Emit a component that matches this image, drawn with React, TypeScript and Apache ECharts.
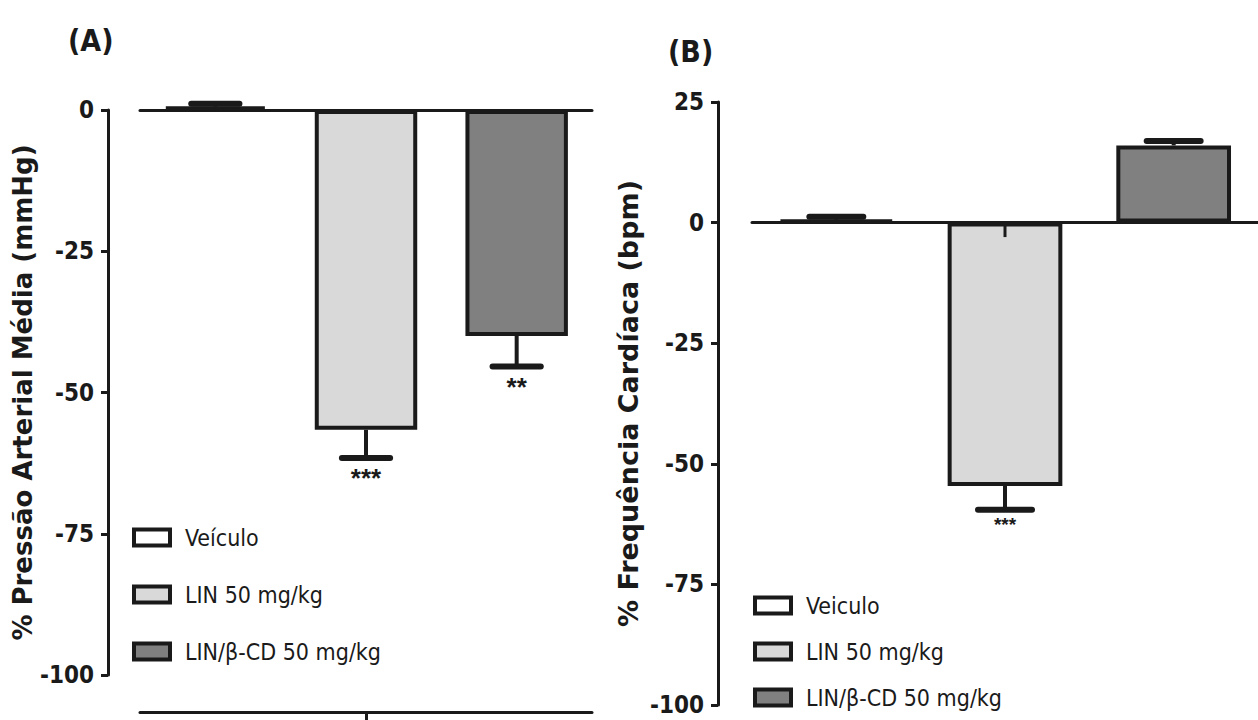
import React, { useEffect, useRef } from 'react';
import * as echarts from 'echarts';

// ---- data ----
const groupsA = ['Veículo', 'LIN 50 mg/kg', 'LIN/β-CD 50 mg/kg'];
const groupsB = ['Veiculo', 'LIN 50 mg/kg', 'LIN/β-CD 50 mg/kg'];
const fills = ['#ffffff', '#d9d9d9', '#808080'];

// (A) % Pressão Arterial Média (mmHg)
const papMean = [0.6, -56.6, -40.0];
const papSem = [0.5, 5.0, 5.4];
const papStars = ['', '***', '**'];
const papInner = [0, 0, 0];

// (B) % Frequência Cardíaca (bpm)
const fcMean = [0.6, -54.6, 16.0];
const fcSem = [0.6, 4.9, 0.9];
const fcStars = ['', '***', ''];
const fcInner = [0, 3, 0];

const axisA = { min: -100, max: 0, interval: 25 };
const axisB = { min: -100, max: 25, interval: 25 };

const INK = '#1a1a1a';
const NARROW = '"Liberation Sans Narrow", "Arial Narrow", "DejaVu Sans Condensed", sans-serif';
const SANS = '"Liberation Sans", Arial, sans-serif';
const WIDE = '"DejaVu Sans", "Liberation Sans", sans-serif';

function barSeries(names: string[], means: number[], axisIdx: number) {
  return names.map((name, i) => ({
    name,
    type: 'bar',
    xAxisIndex: axisIdx === 0 ? 0 : 2,
    yAxisIndex: axisIdx,
    data: means.map((v, j) => (j === i ? v : '-')),
    barGap: '-100%',
    barWidth: '68%',
    clip: false,
    itemStyle: { color: fills[i], borderColor: INK, borderWidth: 4 },
    z: 2,
  }));
}

function errorSeries(
  means: number[],
  sems: number[],
  stars: string[],
  inner: number[],
  axisIdx: number,
  starSize: number,
  starGap: number
) {
  return {
    type: 'custom',
    xAxisIndex: axisIdx === 0 ? 0 : 2,
    yAxisIndex: axisIdx,
    z: 4,
    clip: false,
    encode: { x: 0, y: 1 },
    data: means.map((m, i) => [i, m, sems[i]]),
    renderItem: (params: any, api: any) => {
      const idx = params.dataIndex;
      const x = api.value(0);
      const m = api.value(1);
      const s = api.value(2);
      const sign = m >= 0 ? 1 : -1;
      const p0 = api.coord([x, m]);
      const p1 = api.coord([x, m + sign * s]);
      const band = api.size([1, 0])[0];
      const half = band * 0.16;
      const children: any[] = [
        {
          type: 'line',
          shape: { x1: p0[0], y1: p0[1], x2: p1[0], y2: p1[1] },
          style: { stroke: INK, lineWidth: 4 },
        },
        {
          type: 'line',
          shape: { x1: p1[0] - half, y1: p1[1], x2: p1[0] + half, y2: p1[1] },
          style: { stroke: INK, lineWidth: 6, lineCap: 'round' },
        },
      ];
      if (inner[idx]) {
        const z0 = api.coord([x, 0]);
        const z1 = api.coord([x, sign * inner[idx]]);
        children.push({
          type: 'line',
          shape: { x1: z0[0], y1: z0[1], x2: z1[0], y2: z1[1] },
          style: { stroke: INK, lineWidth: 3 },
        });
      }
      if (stars[idx]) {
        children.push({
          type: 'text',
          style: {
            text: stars[idx],
            x: p1[0],
            y: p1[1] - sign * starGap,
            textAlign: 'center',
            textVerticalAlign: 'middle',
            fontSize: starSize,
            fontWeight: 'bold',
            fontFamily: SANS,
            fill: INK,
          },
        });
      }
      return { type: 'group', children };
    },
  };
}

function yAxisCfg(gridIndex: number, cfg: any, name: string, offset: number, nameGap: number, nameSize: number) {
  return {
    gridIndex,
    type: 'value',
    min: cfg.min,
    max: cfg.max,
    interval: cfg.interval,
    position: 'left',
    offset,
    name,
    nameLocation: 'middle',
    nameGap,
    nameTextStyle: { fontSize: nameSize, fontWeight: 'bold', fontFamily: WIDE, color: INK },
    axisLine: { show: true, onZero: false, lineStyle: { color: INK, width: 3 } },
    axisTick: { show: true, length: 7, lineStyle: { color: INK, width: 3 } },
    axisLabel: { fontSize: 24, fontWeight: 'bold', fontFamily: NARROW, color: INK, margin: 14 },
    splitLine: { show: false },
  };
}

function legendCfg(data: string[], left: number, top: number, gap: number) {
  return {
    orient: 'vertical',
    left,
    top,
    padding: 0,
    itemGap: gap,
    itemWidth: 36,
    itemHeight: 16,
    icon: 'rect',
    selectedMode: false,
    data,
    itemStyle: { borderColor: INK, borderWidth: 4 },
    textStyle: { fontSize: 23, fontFamily: NARROW, color: INK, padding: [0, 0, 0, 10] },
  };
}

export default function App() {
  const ref = useRef<HTMLDivElement>(null);
  useEffect(() => {
    if (!ref.current) return;
    const chart = echarts.init(ref.current, null, { renderer: 'svg' });
    chart.setOption({
      animation: false,
      backgroundColor: '#ffffff',
      grid: [
        { left: 140, right: 666, top: 110, bottom: 45 },
        { left: 752, right: -8, top: 102, bottom: 15 },
      ],
      xAxis: [
        {
          gridIndex: 0,
          type: 'category',
          data: groupsA,
          position: 'top',
          axisLine: { show: true, onZero: true, lineStyle: { color: INK, width: 3 } },
          axisTick: { show: false },
          axisLabel: { show: false },
        },
        {
          gridIndex: 0,
          type: 'category',
          data: [''],
          position: 'bottom',
          offset: 37,
          axisLine: { show: true, onZero: false, lineStyle: { color: INK, width: 3 } },
          axisTick: { show: true, alignWithLabel: true, length: 9, lineStyle: { color: INK, width: 3 } },
          axisLabel: { show: false },
        },
        {
          gridIndex: 1,
          type: 'category',
          data: groupsB,
          axisLine: { show: true, onZero: true, lineStyle: { color: INK, width: 3 } },
          axisTick: { show: false },
          axisLabel: { show: false },
        },
      ],
      yAxis: [
        yAxisCfg(0, axisA, '% Pressão Arterial Média (mmHg)', 32, 71, 26),
        yAxisCfg(1, axisB, '% Frequência Cardíaca (bpm)', 34, 76, 27),
      ],
      legend: [
        legendCfg(groupsA, 132, 526, 34),
        legendCfg(groupsB, 753, 594, 23),
      ],
      graphic: [
        {
          type: 'text',
          left: 68,
          top: 25,
          style: { text: '(A)', fontSize: 30, fontWeight: 'bold', fontFamily: NARROW, fill: INK },
        },
        {
          type: 'text',
          left: 668,
          top: 36,
          style: { text: '(B)', fontSize: 30, fontWeight: 'bold', fontFamily: NARROW, fill: INK },
        },
      ],
      series: [
        ...barSeries(groupsA, papMean, 0),
        errorSeries(papMean, papSem, papStars, papInner, 0, 26, 20),
        ...barSeries(groupsB, fcMean, 1),
        errorSeries(fcMean, fcSem, fcStars, fcInner, 1, 19, 15),
      ],
    });
    return () => chart.dispose();
  }, []);
  return (
    <div
      ref={ref}
      style={{ position: 'fixed', left: 0, top: 0, width: 1258, height: 720, background: '#fff' }}
    />
  );
}
